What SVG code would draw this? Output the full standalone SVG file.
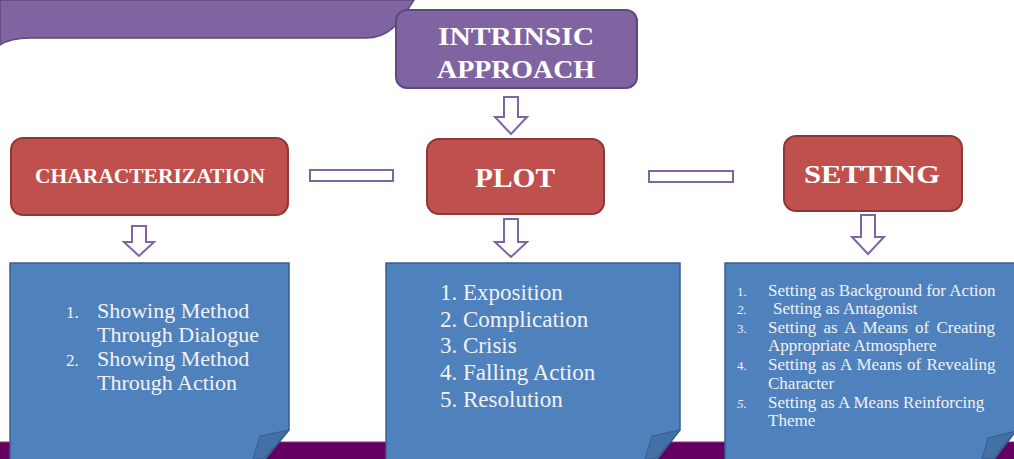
<svg xmlns="http://www.w3.org/2000/svg" width="1014" height="459" viewBox="0 0 1014 459">
<style>
.hdr{fill:#ffffff;font-family:"Liberation Serif",serif;font-weight:bold;text-anchor:middle}
.red{fill:#C0504D;stroke:#8C3836;stroke-width:2}
.purp{fill:#8064A2;stroke:#5C4A7C;stroke-width:2}
.page{fill:#4F81BD;stroke:#385D8A;stroke-width:1.5}
.flap{fill:#4470A8;stroke:#385D8A;stroke-width:1}
.arrow{fill:#ffffff;stroke:#8064A2;stroke-width:2}
.body{fill:#F2F2F2}
</style>
<rect width="1014" height="459" fill="#ffffff"/>
<path d="M0,0 H414 C402,18 392,38 366,38 H30 C15,38 6,41 0,45 Z" fill="#8064A2" stroke="#5C4A7C" stroke-width="1.5"/>
<rect x="0" y="442" width="1014" height="17" fill="#660060"/>
<line x1="0" y1="442" x2="1014" y2="442" stroke="#8a3a86" stroke-width="1"/>

<g id="intrinsic">
<rect class="purp" x="396" y="10" width="241" height="78" rx="11"/>
<text class="hdr" x="516" y="45" font-size="26" textLength="156" lengthAdjust="spacingAndGlyphs">INTRINSIC</text>
<text class="hdr" x="516" y="78" font-size="26" textLength="158" lengthAdjust="spacingAndGlyphs">APPROACH</text>
</g>

<g id="characterization">
<rect class="red" x="11" y="138" width="277" height="77" rx="12"/>
<text class="hdr" x="150" y="183" font-size="20" textLength="230" lengthAdjust="spacingAndGlyphs">CHARACTERIZATION</text>
</g>

<g id="plot">
<rect class="red" x="427" y="139" width="177" height="75" rx="12"/>
<text class="hdr" x="515" y="187" font-size="27" textLength="80" lengthAdjust="spacingAndGlyphs">PLOT</text>
</g>

<g id="setting">
<rect class="red" x="784" y="136" width="178" height="75" rx="12"/>
<text class="hdr" x="872" y="183" font-size="26" textLength="136" lengthAdjust="spacingAndGlyphs">SETTING</text>
</g>

<g id="connectors">
<path class="arrow" d="M504,97 H518 V117 H527 L511,134 L495,117 H504 Z"/>
<path class="arrow" d="M132,226 H146 V242 H154 L139,256 L124,242 H132 Z"/>
<path class="arrow" d="M504,219 H518 V242 H527 L511,257 L495,242 H504 Z"/>
<path class="arrow" d="M861,215 H875 V237 H884 L868,254 L852,237 H861 Z"/>
<rect class="arrow" x="310" y="170" width="83" height="11"/>
<rect class="arrow" x="649" y="171" width="84" height="11"/>
</g>

<g id="characterization-list">
<path class="page" d="M10,263 H289 V430 L263,462 H10 Z"/>
<path class="flap" d="M289,430 L260,436 L253,459 L263,459 Z"/>
<text class="body" font-family="Liberation Serif, serif" font-size="22">
<tspan x="66" y="318" font-size="17">1.</tspan><tspan x="97" y="318">Showing Method</tspan>
<tspan x="97" y="342">Through Dialogue</tspan>
<tspan x="66" y="366" font-size="17">2.</tspan><tspan x="97" y="366">Showing Method</tspan>
<tspan x="97" y="390">Through Action</tspan>
</text>
</g>

<g id="plot-list">
<path class="page" d="M386,263 H680 V430 L655,462 H386 Z"/>
<path class="flap" d="M680,430 L652,436 L645,459 L655,459 Z"/>
<text class="body" font-family="Liberation Serif, serif" font-size="23">
<tspan x="440" y="300">1. Exposition</tspan>
<tspan x="440" y="327">2. Complication</tspan>
<tspan x="440" y="353">3. Crisis</tspan>
<tspan x="440" y="380">4. Falling Action</tspan>
<tspan x="440" y="407">5. Resolution</tspan>
</text>
</g>

<g id="setting-list">
<path class="page" d="M725,263 H1016 V431 L992,462 H725 Z"/>
<path class="flap" d="M1016,431 L988,438 L982,459 L992,459 Z"/>
<text class="body" font-family="Liberation Serif, serif" font-size="17">
<tspan x="737" y="296" font-size="13">1.</tspan><tspan x="768" y="296">Setting as Background for Action</tspan>
<tspan x="737" y="314" font-size="13" font-style="italic">2.</tspan><tspan x="773" y="314">Setting as Antagonist</tspan>
<tspan x="737" y="333" font-size="13">3.</tspan><tspan x="768" y="333" word-spacing="3">Setting as A Means of Creating</tspan>
<tspan x="768" y="351">Appropriate Atmosphere</tspan>
<tspan x="737" y="370" font-size="13">4.</tspan><tspan x="768" y="370" word-spacing="1">Setting as A Means of Revealing</tspan>
<tspan x="768" y="389">Character</tspan>
<tspan x="737" y="408" font-size="13" font-style="italic">5.</tspan><tspan x="768" y="408">Setting as A Means Reinforcing</tspan>
<tspan x="768" y="426">Theme</tspan>
</text>
</g>
</svg>
